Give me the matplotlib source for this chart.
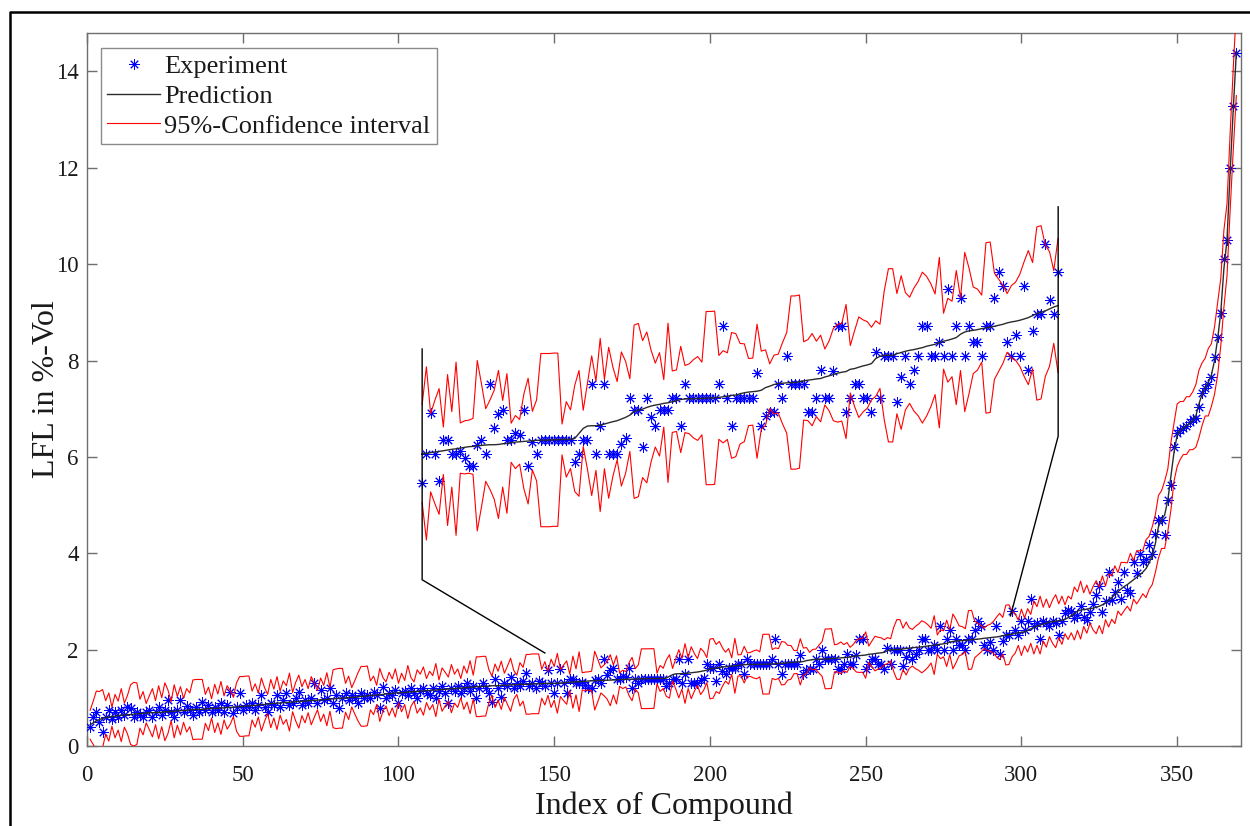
import matplotlib
matplotlib.use("Agg")
import matplotlib.pyplot as plt
import numpy as np
from matplotlib.lines import Line2D
from matplotlib.transforms import Affine2D

# measured LFL (%-Vol), compounds sorted by predicted value
experiment = [
    0.40, 0.60, 0.70, 0.50, 0.30, 0.60, 0.75, 0.55, 0.70, 0.60,
    0.75, 0.65, 0.80, 0.78, 0.60, 0.70, 0.65, 0.60, 0.70, 0.75,
    0.60, 0.70, 0.80, 0.65, 0.75, 0.95, 0.70, 0.60, 0.75, 0.95,
    0.70, 0.82, 0.75, 0.65, 0.80, 0.70, 0.92, 0.75, 0.85, 0.70,
    0.80, 0.75, 0.90, 0.70, 0.85, 1.13, 0.68, 0.80, 1.09, 0.75,
    0.85, 0.80, 0.90, 0.75, 0.85, 1.06, 0.80, 0.71, 0.90, 0.85,
    1.06, 0.80, 0.95, 1.09, 0.85, 0.90, 1.00, 1.13, 0.85, 0.95,
    0.90, 1.00, 1.30, 0.90, 1.16, 0.95, 1.00, 1.20, 0.90, 1.05,
    0.78, 1.00, 1.09, 0.95, 1.05, 1.00, 0.90, 1.10, 1.00, 1.05,
    1.00, 1.13, 1.05, 0.78, 1.23, 1.00, 1.10, 1.05, 1.16, 0.89,
    1.10, 1.15, 1.05, 1.20, 1.10, 1.00, 1.15, 1.20, 1.10, 1.05,
    1.20, 0.99, 1.15, 1.25, 1.10, 0.89, 1.20, 1.15, 1.25, 1.10,
    1.20, 1.30, 1.15, 1.25, 0.99, 1.20, 1.30, 1.20, 1.10, 0.92,
    1.40, 1.20, 1.02, 1.30, 1.25, 1.44, 1.20, 1.30, 1.25, 1.35,
    1.51, 1.25, 1.30, 1.20, 1.35, 1.30, 1.25, 1.58, 1.30, 1.09,
    1.30, 1.59, 1.30, 1.10, 1.40, 1.40, 1.30, 1.30, 1.32, 1.27,
    1.21, 1.21, 1.36, 1.40, 1.30, 1.80, 1.48, 1.58, 1.61, 1.40,
    1.40, 1.45, 1.43, 1.61, 1.21, 1.38, 1.30, 1.40, 1.40, 1.40,
    1.40, 1.40, 1.40, 1.40, 1.40, 1.24, 1.30, 1.40, 1.40, 1.80,
    1.30, 1.50, 1.80, 1.30, 1.30, 1.30, 1.37, 1.41, 1.70, 1.61,
    1.61, 1.35, 1.70, 1.56, 1.50, 1.61, 1.61, 1.61, 1.70, 1.70,
    1.50, 1.80, 1.70, 1.70, 1.70, 1.70, 1.70, 1.70, 1.70, 1.80,
    2.21, 1.70, 1.50, 1.70, 1.70, 1.70, 1.70, 1.70, 1.88, 1.50,
    1.57, 1.60, 1.60, 1.80, 1.70, 2.00, 1.80, 1.80, 1.80, 1.80,
    1.60, 1.60, 1.70, 1.90, 1.70, 1.70, 1.89, 2.21, 2.21, 1.60,
    1.70, 1.80, 1.80, 1.70, 1.70, 1.60, 2.03, 1.70, 2.00, 2.00,
    2.00, 1.67, 1.85, 2.00, 1.80, 1.90, 2.00, 2.21, 2.21, 2.00,
    2.00, 2.10, 2.00, 2.48, 2.00, 2.21, 2.41, 2.00, 2.21, 2.10,
    2.10, 2.00, 2.21, 2.21, 2.41, 2.60, 2.50, 2.10, 2.00, 2.15,
    2.00, 2.50, 1.90, 2.18, 2.30, 2.30, 2.80, 2.40, 2.30, 2.60,
    2.40,
    2.60, 3.06, 2.50, 2.55, 2.21, 2.60, 2.55, 2.50, 2.60, 2.55,
    2.30, 2.60, 2.75, 2.82, 2.80, 2.65, 2.72, 2.90, 2.68, 2.61,
    2.79, 2.95, 3.13, 3.31, 2.79, 3.00, 3.62, 3.03, 3.20, 3.41,
    3.06, 3.62, 3.24, 3.17, 3.82, 3.60, 3.99, 3.82, 3.89, 4.17,
    3.99, 4.40, 4.69, 4.69, 4.38, 5.10, 5.41, 6.21, 6.49, 6.55,
    6.60, 6.65, 6.72, 6.78, 6.80, 7.04, 7.32, 7.42, 7.52, 7.66,
    8.08, 8.49, 8.98, 10.10, 10.50, 12.00, 13.28, 14.39,
]

prediction = [
    0.44, 0.48, 0.52, 0.55, 0.57, 0.59, 0.60, 0.61, 0.62, 0.63,
    0.64, 0.64, 0.65, 0.65, 0.66, 0.67, 0.67, 0.68, 0.68, 0.69,
    0.69, 0.69, 0.70, 0.70, 0.71, 0.71, 0.72, 0.72, 0.73, 0.73,
    0.74, 0.74, 0.75, 0.75, 0.76, 0.76, 0.76, 0.77, 0.77, 0.78,
    0.78, 0.78, 0.79, 0.79, 0.80, 0.80, 0.81, 0.81, 0.82, 0.82,
    0.83, 0.83, 0.84, 0.84, 0.85, 0.86, 0.86, 0.87, 0.88, 0.88,
    0.89, 0.89, 0.90, 0.90, 0.91, 0.91, 0.92, 0.92, 0.93, 0.93,
    0.94, 0.94, 0.95, 0.95, 0.96, 0.96, 0.97, 0.97, 0.98, 0.98,
    0.99, 0.99, 1.00, 1.00, 1.01, 1.01, 1.02, 1.03, 1.03, 1.04,
    1.05, 1.05, 1.06, 1.06, 1.07, 1.08, 1.08, 1.09, 1.10, 1.10,
    1.11, 1.11, 1.12, 1.12, 1.13, 1.13, 1.14, 1.14, 1.15, 1.15,
    1.16, 1.16, 1.17, 1.17, 1.18, 1.18, 1.19, 1.19, 1.20, 1.20,
    1.21, 1.21, 1.22, 1.22, 1.23, 1.23, 1.24, 1.24, 1.24, 1.25,
    1.25, 1.25, 1.26, 1.26, 1.26, 1.27, 1.27, 1.27, 1.28, 1.28,
    1.28, 1.28, 1.29, 1.29, 1.29, 1.29, 1.30, 1.30, 1.30, 1.30,
    1.301, 1.306, 1.311, 1.315, 1.320, 1.325, 1.330, 1.334, 1.339, 1.344,
    1.349, 1.351, 1.356, 1.358, 1.361, 1.363, 1.363, 1.365, 1.370, 1.372,
    1.377, 1.382, 1.384, 1.387, 1.389, 1.392, 1.394, 1.396, 1.396, 1.396,
    1.399, 1.399, 1.401, 1.401, 1.403, 1.408, 1.444, 1.480, 1.497, 1.499,
    1.499, 1.504, 1.511, 1.520, 1.528, 1.535, 1.547, 1.559, 1.575, 1.599,
    1.611, 1.618, 1.630, 1.640, 1.647, 1.652, 1.659, 1.663, 1.671, 1.678,
    1.687, 1.690, 1.692, 1.692, 1.694, 1.694, 1.697, 1.697, 1.699, 1.702,
    1.706, 1.711, 1.716, 1.718, 1.728, 1.735, 1.740, 1.743, 1.746, 1.753,
    1.772, 1.782, 1.794, 1.801, 1.803, 1.806, 1.808, 1.808, 1.815, 1.820,
    1.825, 1.829, 1.834, 1.837, 1.848, 1.856, 1.865, 1.875, 1.882, 1.887,
    1.903, 1.908, 1.918, 1.927, 1.934, 1.944, 1.980, 1.996, 2.003, 2.003,
    2.003, 2.015, 2.023, 2.032, 2.039, 2.044, 2.051, 2.058, 2.068, 2.075,
    2.082, 2.094, 2.104, 2.111, 2.120, 2.130, 2.154, 2.170, 2.178, 2.182,
    2.187, 2.194, 2.199, 2.204, 2.211, 2.218, 2.225, 2.235, 2.242, 2.247,
    2.254, 2.263, 2.273, 2.287, 2.302, 2.311, 2.321, 2.335, 2.349, 2.359,
    2.366,
    2.40, 2.43, 2.46, 2.49, 2.51, 2.53, 2.55, 2.57, 2.58, 2.59,
    2.60, 2.61, 2.63, 2.66, 2.70, 2.75, 2.80, 2.82, 2.83, 2.84,
    2.85, 2.86, 2.88, 2.90, 2.93, 2.97, 3.02, 3.08, 3.14, 3.20,
    3.26, 3.31, 3.35, 3.40, 3.45, 3.50, 3.55, 3.61, 3.68, 3.80,
    3.95, 4.20, 4.55, 4.70, 4.80, 5.10, 5.60, 6.10, 6.45, 6.55,
    6.60, 6.65, 6.70, 6.75, 6.85, 7.10, 7.30, 7.45, 7.55, 7.70,
    8.00, 8.45, 9.00, 9.90, 10.50, 11.90, 13.20, 14.40,
]

# half width of the 95 % confidence interval around the prediction
ci_half = [
    0.30, 0.45, 0.62, 0.58, 0.60, 0.35, 0.50, 0.20, 0.45, 0.30,
    0.55, 0.25, 0.40, 0.62, 0.66, 0.64, 0.30, 0.45, 0.20, 0.35,
    0.50, 0.25, 0.55, 0.30, 0.60, 0.45, 0.20, 0.55, 0.30, 0.50,
    0.25, 0.45, 0.35, 0.62, 0.62, 0.62, 0.62, 0.30, 0.45, 0.20,
    0.50, 0.30, 0.55, 0.25, 0.45, 0.35, 0.20, 0.50, 0.62, 0.62,
    0.62, 0.62, 0.30, 0.45, 0.25, 0.55, 0.35, 0.20, 0.50, 0.30,
    0.55, 0.25, 0.45, 0.35, 0.60, 0.20, 0.40, 0.55, 0.30, 0.45,
    0.25, 0.50, 0.35, 0.20, 0.45, 0.30, 0.55, 0.25, 0.60, 0.62,
    0.62, 0.62, 0.30, 0.45, 0.20, 0.35, 0.50, 0.62, 0.62, 0.62,
    0.30, 0.40, 0.20, 0.55, 0.35, 0.25, 0.45, 0.30, 0.50, 0.20,
    0.40, 0.25, 0.55, 0.30, 0.20, 0.45, 0.35, 0.50, 0.25, 0.40,
    0.30, 0.55, 0.20, 0.45, 0.35, 0.25, 0.50, 0.30, 0.40, 0.20,
    0.45, 0.30, 0.55, 0.25, 0.62, 0.62, 0.62, 0.62, 0.35, 0.20,
    0.45, 0.30, 0.50, 0.25, 0.40, 0.55, 0.30, 0.20, 0.45, 0.35,
    0.62, 0.62, 0.62, 0.62, 0.62, 0.30, 0.45, 0.25, 0.50, 0.35,
    0.62, 0.28, 0.37, 0.45, 0.17, 0.54, 0.27, 0.62, 0.18, 0.19,
    0.19, 0.20, 0.61, 0.44, 0.26, 0.32, 0.39, 0.53, 0.31, 0.50,
    0.14, 0.19, 0.16, 0.34, 0.45, 0.21, 0.29, 0.62, 0.62, 0.62,
    0.62, 0.62, 0.11, 0.27, 0.21, 0.38, 0.45, 0.13, 0.31, 0.50,
    0.32, 0.62, 0.32, 0.54, 0.39, 0.28, 0.48, 0.40, 0.26, 0.62,
    0.62, 0.49, 0.54, 0.40, 0.30, 0.37, 0.17, 0.57, 0.22, 0.22,
    0.38, 0.24, 0.25, 0.28, 0.30, 0.26, 0.62, 0.62, 0.62, 0.30,
    0.33, 0.31, 0.45, 0.44, 0.36, 0.35, 0.24, 0.24, 0.48, 0.28,
    0.27, 0.16, 0.21, 0.21, 0.29, 0.36, 0.62, 0.62, 0.62, 0.28,
    0.29, 0.33, 0.27, 0.31, 0.20, 0.25, 0.33, 0.35, 0.35, 0.48,
    0.17, 0.27, 0.36, 0.33, 0.31, 0.26, 0.27, 0.23, 0.46, 0.62,
    0.62, 0.43, 0.55, 0.42, 0.38, 0.44, 0.48, 0.54, 0.50, 0.44,
    0.36, 0.61, 0.20, 0.30, 0.27, 0.48, 0.26, 0.57, 0.45, 0.31,
    0.29, 0.24, 0.61, 0.61, 0.38, 0.33, 0.28, 0.21, 0.26, 0.28,
    0.33, 0.41, 0.48, 0.38, 0.62, 0.62, 0.47, 0.41, 0.26, 0.48,
    0.29,
    0.45, 0.30, 0.55, 0.40, 0.60, 0.35, 0.50, 0.30, 0.45, 0.55,
    0.35, 0.50, 0.30, 0.45, 0.35, 0.55, 0.40, 0.60, 0.35, 0.50,
    0.30, 0.45, 0.55, 0.40, 0.60, 0.35, 0.55, 0.45, 0.60, 0.40,
    0.55, 0.50, 0.45, 0.60, 0.40, 0.55, 0.50, 0.45, 0.60, 0.55,
    0.60, 0.60, 0.65, 0.60, 0.70, 0.65, 0.70, 0.60, 0.65, 0.60,
    0.55, 0.60, 0.55, 0.60, 0.65, 0.70, 0.65, 0.60, 0.70, 0.65,
    0.70, 0.75, 0.70, 0.80, 0.75, 0.80, 0.85, 0.90,
]

X_TICKS = [0, 50, 100, 150, 200, 250, 300, 350]
Y_TICKS = [0, 2, 4, 6, 8, 10, 12, 14]
ZOOM_START, ZOOM_END = 150, 300

AXIS_GRAY = "#6e6e6e"
TEXT = "#1a1a1a"
STAR = dict(marker=(8, 2, 0), ms=7.5, mew=0.7, color="blue", ls="none")


def draw_series(ax, x, exp, pred, half, transform, label=True):
    kw = {"transform": transform}
    ax.plot(x, exp, label="Experiment" if label else None, zorder=3, **STAR, **kw)
    ax.plot(x, pred, color="#2b2b2b", lw=1.0,
            label="Prediction" if label else None, zorder=4, **kw)
    ax.plot(x, pred + half, color="red", lw=0.8,
            label="95%-Confidence interval" if label else None, zorder=5, **kw)
    ax.plot(x, pred - half, color="red", lw=0.8, zorder=5, **kw)


def main():
    plt.rcParams.update({
        "font.family": ["Liberation Serif", "DejaVu Serif"],
        "axes.linewidth": 1.0,
    })
    exp = np.array(experiment)
    pred = np.array(prediction)
    half = np.array(ci_half)
    idx = np.arange(1, len(exp) + 1)

    fig = plt.figure(figsize=(12.5, 8.26), dpi=100)
    ax = fig.add_axes([0.0696, 0.0969, 0.9232, 0.8632])

    draw_series(ax, idx, exp, pred, half, ax.transData)

    # magnified view of compounds 150-300, drawn inside the same axes
    sel = (idx >= ZOOM_START) & (idx <= ZOOM_END)
    sx, sy = 1.361, 2.9
    zoom = Affine2D().scale(sx, sy).translate(107.6 - sx * ZOOM_START, 2.30)
    draw_series(ax, idx[sel], exp[sel], pred[sel], half[sel],
                zoom + ax.transData, label=False)
    ax.plot([107.6, 107.6, 147.0], [8.24, 3.45, 1.93], color="k", lw=1.0, zorder=6)
    ax.plot([311.8, 311.8, 296.5], [11.19, 6.43, 2.70], color="k", lw=1.0, zorder=6)

    ax.set_xlim(0, 370.5)
    ax.set_ylim(0, 14.8)
    ax.set_xticks(X_TICKS)
    ax.set_yticks(Y_TICKS)
    ax.tick_params(direction="in", length=7, width=1.0, color=AXIS_GRAY,
                   labelsize=16.5, labelcolor=TEXT, top=True, right=True)
    ax.tick_params(axis="x", pad=14)
    ax.tick_params(axis="y", pad=6)
    for spine in ax.spines.values():
        spine.set_color(AXIS_GRAY)
    ax.set_xlabel("Index of Compound", fontsize=23, color=TEXT, labelpad=4)
    ax.set_ylabel("LFL in %-Vol", fontsize=23, color=TEXT, labelpad=-4)

    leg = ax.legend(loc="upper left", bbox_to_anchor=(0.012, 0.979),
                    borderaxespad=0, fontsize=19, frameon=True, fancybox=False,
                    handlelength=2.0, handletextpad=0.15, borderpad=0.25,
                    labelspacing=0.24)
    leg.get_frame().set_edgecolor(AXIS_GRAY)
    leg.get_frame().set_linewidth(1.0)
    for text in leg.get_texts():
        text.set_color(TEXT)

    # thin frame around the whole picture (left and top edges)
    fig.add_artist(Line2D([10 / 1250, 10 / 1250, 1.0], [0.0, 1 - 12 / 826, 1 - 12 / 826],
                          transform=fig.transFigure, color="k", lw=1.8))

    fig.savefig("out.png", dpi=100)
    plt.close(fig)


if __name__ == "__main__":
    main()
